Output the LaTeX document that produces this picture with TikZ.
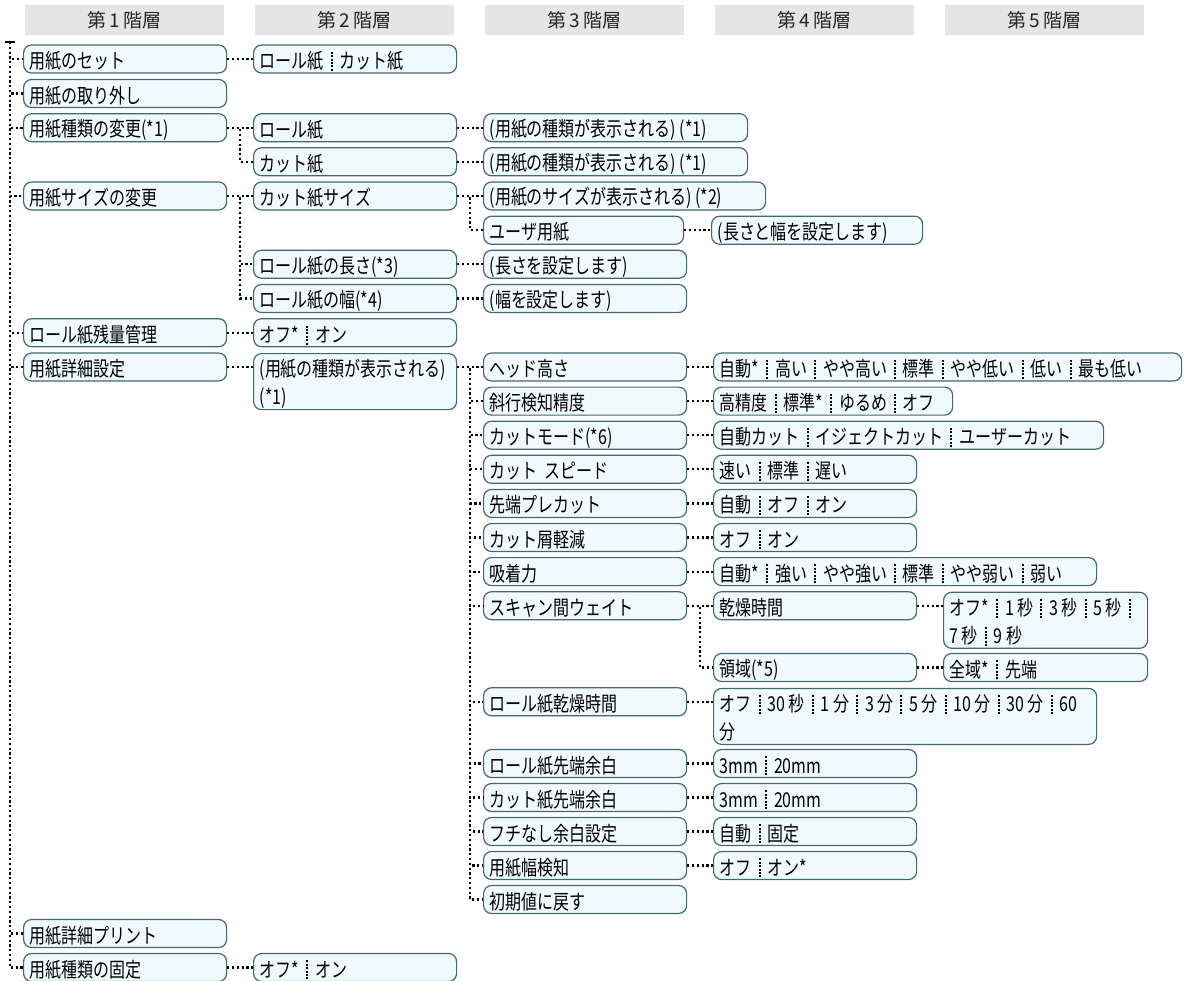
\documentclass[tikz,border=0pt]{standalone}
\usepackage{fontspec}
\setmainfont{Noto Sans CJK JP}[FakeStretch=0.78]
\newfontfamily\headfont{Noto Sans CJK JP}
\usetikzlibrary{positioning}
\definecolor{boxfill}{RGB}{240,250,253}
\definecolor{boxline}{RGB}{66,104,116}
\definecolor{headfill}{RGB}{229,229,229}
\newcommand\sepbar{\kern7pt\raisebox{-3pt}{\vbox to 20.4pt{\cleaders\vbox to 3.4pt{\vss\hrule width 2pt height 2pt\vss}\vfill}}\kern7pt}
\newcommand\brk{\\\rule[-3pt]{0pt}{25pt}}
\tikzset{
  menubox/.style={draw=boxline, fill=boxfill, line width=1.2pt, rounded corners=8pt,
    anchor=west, align=left, text width=#1, minimum height=28pt,
    inner xsep=6pt, inner ysep=0pt, font=\fontsize{20.5}{28}\selectfont,
    execute at begin node={\parindent=0pt\rule[-3pt]{0pt}{25pt}}},
  menubox/.default=191pt,
  tall/.style={anchor=north west, minimum height=56pt},
  tierhead/.style={fill=headfill, minimum width=199pt, minimum height=30pt, inner sep=0pt,
    text=black!85, font=\headfont\fontsize{19}{22}\selectfont},
  dotlink/.style={line width=2.2pt, dash pattern=on 2.2pt off 2.6pt}
}

\begin{document}
\begin{tikzpicture}[x=1pt,y=-1pt]
\useasboundingbox (0,0) rectangle (1185,980);
\node[tierhead] (h1) at (124.5,20) {第\,1\,階層};
\node[tierhead] (h2) at (354.5,20) {第\,2\,階層};
\node[tierhead] (h3) at (584.5,20) {第\,3\,階層};
\node[tierhead] (h4) at (814.5,20) {第\,4\,階層};
\node[tierhead] (h5) at (1044.5,20) {第\,5\,階層};

\node[menubox] (set) at (23,59) {用紙のセット};
\node[menubox] (remove) at (23,93.5) {用紙の取り外し};
\node[menubox] (type) at (23,127.7) {用紙種類の変更(*1)};
\node[menubox] (size) at (23,196) {用紙サイズの変更};
\node[menubox] (remain) at (23,332.7) {ロール紙残量管理};
\node[menubox] (detail) at (23,367) {用紙詳細設定};
\node[menubox] (print) at (23,933.5) {用紙詳細プリント};
\node[menubox] (lock) at (23,967.5) {用紙種類の固定};

\node[menubox] (setopt) at (253,59) {ロール紙\sepbar カット紙};
\node[menubox] (roll) at (253,127.7) {ロール紙};
\node[menubox] (cut) at (253,161.8) {カット紙};
\node[menubox] (cutsize) at (253,196) {カット紙サイズ};
\node[menubox] (rolllen) at (253,264.3) {ロール紙の長さ(*3)};
\node[menubox] (rollwid) at (253,298.5) {ロール紙の幅(*4)};
\node[menubox] (remainopt) at (253,332.7) {オフ*\sepbar オン};
\node[menubox,tall] (media) at (253,353) {(用紙の種類が表示される)\brk(*1)};
\node[menubox] (lockopt) at (253,967.5) {オフ*\sepbar オン};

\node[menubox=252pt] (rolltype) at (483,127.7) {(用紙の種類が表示される)\,(*1)};
\node[menubox=252pt] (cuttype) at (483,161.8) {(用紙の種類が表示される)\,(*1)};
\node[menubox=270pt] (sizeshow) at (483,196) {(用紙のサイズが表示される)\,(*2)};
\node[menubox=188pt] (user) at (483,230.2) {ユーザ用紙};
\node[menubox] (lenset) at (483,264.3) {(長さを設定します)};
\node[menubox] (widset) at (483,298.5) {(幅を設定します)};
\node[menubox] (headht) at (483,367) {ヘッド高さ};
\node[menubox] (skew) at (483,401.1) {斜行検知精度};
\node[menubox] (cutmode) at (483,435.2) {カットモード(*6)};
\node[menubox] (cutspeed) at (483,469.3) {カット スピード};
\node[menubox] (precut) at (483,503.4) {先端プレカット};
\node[menubox] (dust) at (483,537.5) {カット屑軽減};
\node[menubox] (suction) at (483,571.6) {吸着力};
\node[menubox] (scan) at (483,605.7) {スキャン間ウェイト};
\node[menubox] (rolldry) at (483,701.8) {ロール紙乾燥時間};
\node[menubox] (rollmargin) at (483,763.5) {ロール紙先端余白};
\node[menubox] (cutmargin) at (483,797.5) {カット紙先端余白};
\node[menubox] (borderless) at (483,831.5) {フチなし余白設定};
\node[menubox] (widthdet) at (483,865.5) {用紙幅検知};
\node[menubox] (reset) at (483,899.5) {初期値に戻す};

\node[menubox=199pt] (userset) at (711,230.2) {(長さと幅を設定します)};
\node[menubox=456pt] (headopt) at (713,367) {自動*\sepbar 高い\sepbar やや高い\sepbar 標準\sepbar やや低い\sepbar 低い\sepbar 最も低い};
\node[menubox=227pt] (skewopt) at (713,401.1) {高精度\sepbar 標準*\sepbar ゆるめ\sepbar オフ};
\node[menubox=378pt] (cutmodeopt) at (713,435.2) {自動カット\sepbar イジェクトカット\sepbar ユーザーカット};
\node[menubox] (speedopt) at (713,469.3) {速い\sepbar 標準\sepbar 遅い};
\node[menubox] (precutopt) at (713,503.4) {自動\sepbar オフ\sepbar オン};
\node[menubox] (dustopt) at (713,537.5) {オフ\sepbar オン};
\node[menubox=371pt] (suctionopt) at (713,571.6) {自動*\sepbar 強い\sepbar やや強い\sepbar 標準\sepbar やや弱い\sepbar 弱い};
\node[menubox] (drytime) at (713,605.7) {乾燥時間};
\node[menubox] (area) at (713,667.5) {領域(*5)};
\node[menubox=371pt,tall] (rolldryopt) at (713,687.8) {オフ\sepbar 30\,秒\sepbar 1\,分\sepbar 3\,分\sepbar 5\,分\sepbar 10\,分\sepbar 30\,分\sepbar 60\brk 分};
\node[menubox] (marginopt) at (713,763.5) {3mm\sepbar 20mm};
\node[menubox] (cutmarginopt) at (713,797.5) {3mm\sepbar 20mm};
\node[menubox] (borderopt) at (713,831.5) {自動\sepbar 固定};
\node[menubox] (widthopt) at (713,865.5) {オフ\sepbar オン*};

\node[menubox=192pt,tall] (drytimeopt) at (943,591.7) {オフ*\sepbar 1\,秒\sepbar 3\,秒\sepbar 5\,秒\sepbar\brk 7\,秒\sepbar 9\,秒};
\node[menubox=192pt] (areaopt) at (943,667.5) {全域*\sepbar 先端};

\draw[line width=2pt] (5,42) -- (15,42);
\coordinate (root) at (10,42);
\foreach \n in {set,remove,type,size,remain,detail,print,lock}
  \draw[dotlink] (root) |- (\n.west);
\foreach \n in {roll,cut}
  \draw[dotlink] (type.east) -- ++(13,0) |- (\n.west);
\foreach \n in {cutsize,rolllen,rollwid}
  \draw[dotlink] (size.east) -- ++(13,0) |- (\n.west);
\foreach \n in {sizeshow,user}
  \draw[dotlink] (cutsize.east) -- ++(13,0) |- (\n.west);
\foreach \n in {headht,skew,cutmode,cutspeed,precut,dust,suction,scan,rolldry,rollmargin,cutmargin,borderless,widthdet,reset}
  \draw[dotlink] (media.east |- headht.west) -- ++(13,0) |- (\n.west);
\foreach \n in {drytime,area}
  \draw[dotlink] (scan.east) -- ++(13,0) |- (\n.west);
\foreach \a/\b in {set/setopt,roll/rolltype,cut/cuttype,user/userset,rolllen/lenset,rollwid/widset,remain/remainopt,lock/lockopt,headht/headopt,skew/skewopt,cutmode/cutmodeopt,cutspeed/speedopt,precut/precutopt,dust/dustopt,suction/suctionopt,area/areaopt,rollmargin/marginopt,cutmargin/cutmarginopt,borderless/borderopt,widthdet/widthopt}
  \draw[dotlink] (\a.east) -- (\b.west);
\draw[dotlink] (detail.east) -- (detail.east -| media.west);
\draw[dotlink] (drytime.east) -- (drytime.east -| drytimeopt.west);
\draw[dotlink] (rolldry.east) -- (rolldry.east -| rolldryopt.west);
\end{tikzpicture}
\end{document}
